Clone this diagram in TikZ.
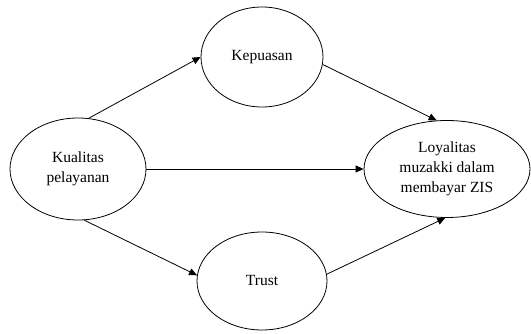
\documentclass[tikz,border=0pt]{standalone}
\usepackage{fontspec}
\setmainfont{Liberation Serif}
\usetikzlibrary{shapes.geometric,arrows.meta}
\begin{document}
\begin{tikzpicture}[x=1pt,y=-1pt,
  var/.style={draw,ellipse,inner sep=0pt,line width=0.8pt,align=center,
    font=\fontsize{15.5pt}{20pt}\selectfont},
  link/.style={line width=0.8pt,-{Triangle[length=8pt,width=7pt]}}]
\useasboundingbox (0,0) rectangle (531,334);
\node[var,minimum width=136pt,minimum height=102pt] (kual) at (78,169) {Kualitas\\pelayanan};
\node[var,minimum width=122pt,minimum height=100pt] (kep) at (262,57) {Kepuasan};
\node[var,minimum width=130pt,minimum height=98pt] (trust) at (262,281) {Trust};
\node[var,minimum width=166pt,minimum height=97pt] (loy) at (447,169) {Loyalitas\\muzakki dalam\\membayar ZIS};
\draw[link] (kual.78) -- (kep.180);
\draw[link] (kual.0) -- (loy.180);
\draw[link] (kual.-83) -- (trust.175);
\draw[link] (kep.-7) -- (loy.102);
\draw[link] (trust.6) -- (loy.268);
\end{tikzpicture}
\end{document}
